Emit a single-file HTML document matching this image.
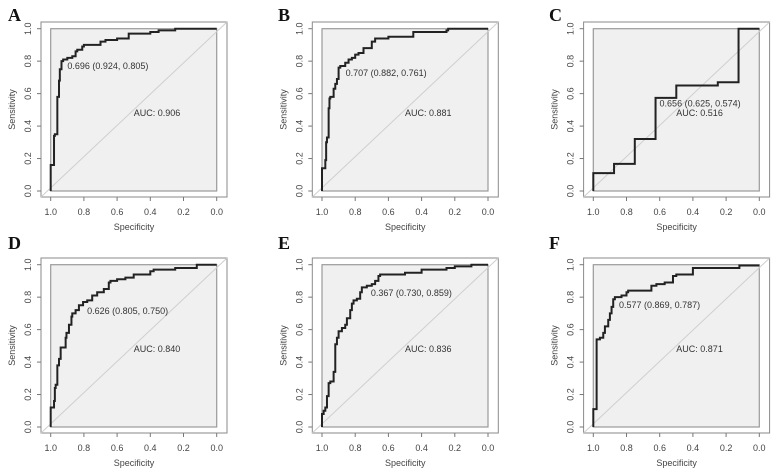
<!DOCTYPE html>
<html><head><meta charset="utf-8"><style>
html,body{margin:0;padding:0;background:#fff;}
svg{display:block;font-family:"Liberation Sans",sans-serif;}
</style></head><body>
<svg id="fig" width="779" height="476" viewBox="0 0 779 476" xmlns="http://www.w3.org/2000/svg"></svg>
<script>
const panelLetters = ["A","B","C","D","E","F"];
const aucLabels = ["AUC: 0.906","AUC: 0.881","AUC: 0.516","AUC: 0.840","AUC: 0.836","AUC: 0.871"];
const cutThresholds = ["0.696","0.707","0.656","0.626","0.367","0.577"];
const cutSpec = [0.924,0.882,0.625,0.805,0.730,0.869];
const cutSens = [0.805,0.761,0.574,0.750,0.859,0.787];
const tickValues = [1.0,0.8,0.6,0.4,0.2,0.0];
const tickLabels = ["1.0","0.8","0.6","0.4","0.2","0.0"];
const specA = [1,1,0.98,0.975,0.96,0.96,0.95,0.945,0.935,0.925,0.90,0.87,0.85,0.84,0.81,0.80,0.78,0.70,0.67,0.6,0.53,0.5,0.4,0.35,0.25,0.24,0];
const sensA = [0,0.15,0.16,0.34,0.35,0.46,0.58,0.68,0.75,0.80,0.81,0.82,0.83,0.86,0.87,0.89,0.90,0.90,0.92,0.93,0.94,0.97,0.97,0.98,0.99,1,1];
const specB = [1,1,0.98,0.975,0.97,0.96,0.955,0.95,0.93,0.92,0.91,0.90,0.89,0.86,0.84,0.82,0.80,0.78,0.75,0.70,0.68,0.65,0.6,0.55,0.45,0.4,0.25,0.24,0.15,0];
const sensB = [0,0.14,0.14,0.19,0.30,0.33,0.51,0.57,0.58,0.63,0.66,0.69,0.76,0.77,0.79,0.81,0.82,0.84,0.85,0.88,0.92,0.94,0.94,0.95,0.95,0.98,0.98,0.99,1,1];
const specC = [1,1,0.875,0.875,0.75,0.75,0.625,0.625,0.5,0.5,0.25,0.25,0.125,0.125,0];
const sensC = [0,0.11,0.11,0.167,0.167,0.32,0.32,0.574,0.574,0.65,0.65,0.67,0.67,1,1];
const specD = [1,1,0.98,0.975,0.97,0.96,0.95,0.94,0.935,0.91,0.905,0.89,0.875,0.87,0.85,0.83,0.805,0.78,0.75,0.72,0.68,0.65,0.64,0.6,0.55,0.5,0.4,0.38,0.25,0.2,0.12,0.1,0];
const sensD = [0,0.12,0.12,0.16,0.24,0.26,0.38,0.42,0.49,0.49,0.55,0.58,0.63,0.68,0.70,0.72,0.75,0.77,0.78,0.81,0.83,0.85,0.89,0.90,0.91,0.92,0.94,0.96,0.97,0.98,0.98,1,1];
const specE = [1,1,0.99,0.98,0.97,0.96,0.95,0.93,0.92,0.91,0.90,0.88,0.86,0.85,0.83,0.82,0.81,0.79,0.77,0.76,0.73,0.7,0.68,0.66,0.65,0.5,0.4,0.38,0.25,0.2,0.1,0.1,0];
const sensE = [0,0.06,0.08,0.10,0.12,0.19,0.27,0.28,0.34,0.51,0.55,0.59,0.61,0.63,0.67,0.72,0.76,0.78,0.79,0.83,0.86,0.87,0.88,0.90,0.93,0.94,0.95,0.97,0.97,0.98,0.99,1,1];
const specF = [1,1,0.98,0.98,0.96,0.94,0.93,0.91,0.90,0.89,0.88,0.87,0.83,0.80,0.79,0.65,0.62,0.57,0.52,0.50,0.45,0.40,0.39,0.12,0.12,0];
const sensF = [0,0.11,0.11,0.53,0.54,0.55,0.58,0.62,0.66,0.70,0.74,0.787,0.80,0.81,0.83,0.84,0.87,0.88,0.89,0.93,0.94,0.94,0.98,0.98,0.995,0.995];
const specSeries = [specA,specB,specC,specD,specE,specF];
const sensSeries = [sensA,sensB,sensC,sensD,sensE,sensF];

const NS="http://www.w3.org/2000/svg";
const svg=document.getElementById('fig');
function mk(tag,attrs,parent,text){const e=document.createElementNS(NS,tag);for(const k in attrs)e.setAttribute(k,attrs[k]);if(text!==undefined)e.textContent=text;parent.appendChild(e);return e;}

for(let p=0;p<6;p++){
  const col=p%3,row=Math.floor(p/3);
  const x0=50.7+col*271.3, x1=x0+166;
  const yTop=28.7+row*236, yBot=191+row*236;
  const sx=v=>x1-(x1-x0)*v;
  const sy=v=>yBot-(yBot-yTop)*v;
  const g=mk('g',{},svg);
  
  
  const ox0=x0-9.7, ox1=x1+10.3, oy0=yTop-6.7, oy1=yBot+6;
  const outer=mk('rect',{x:ox0,y:oy0,width:ox1-ox0,height:oy1-oy0,fill:'#fff',stroke:'#8a8a8a','stroke-width':1},g);
  
  
  const inner=mk('rect',{x:x0,y:yTop,width:x1-x0,height:yBot-yTop,fill:'#f0f0f0',stroke:'#9a9a9a','stroke-width':1.2},g);
  
  
  const diag=mk('line',{x1:ox0,y1:oy1,x2:ox1,y2:oy0,stroke:'#cfcfcf','stroke-width':1},g);
  
  
  for(let i=0;i<tickValues.length;i++){
    const tx=sx(tickValues[i]);
    mk('line',{x1:tx,y1:oy1,x2:tx,y2:oy1+4,stroke:'#777','stroke-width':1},g);
    const xl=mk('text',{x:tx,y:oy1+18,'font-size':9,fill:'#444','text-anchor':'middle'},g,tickLabels[i]);
    
    
    const ty=sy(tickValues[i]);
    mk('line',{x1:ox0-4,y1:ty,x2:ox0,y2:ty,stroke:'#777','stroke-width':1},g);
    const yl=mk('text',{x:0,y:0,'font-size':9,fill:'#444','text-anchor':'middle',transform:`translate(${ox0-10},${ty}) rotate(-90)`},g,tickLabels[i]);
    
    
  }
  const xt=mk('text',{x:(ox0+ox1)/2,y:oy1+33,'font-size':9,fill:'#444','text-anchor':'middle'},g,'Specificity');
  
  
  const yt=mk('text',{x:0,y:0,'font-size':9,fill:'#444','text-anchor':'middle',transform:`translate(${ox0-26},${(oy0+oy1)/2}) rotate(-90)`},g,'Sensitivity');
  
  
  const sp=specSeries[p], se=sensSeries[p];
  let d='M'+sx(sp[0]).toFixed(2)+','+sy(se[0]).toFixed(2);
  for(let i=1;i<sp.length;i++){
    d+='L'+sx(sp[i-1]).toFixed(2)+','+sy(se[i]).toFixed(2);
    d+='L'+sx(sp[i]).toFixed(2)+','+sy(se[i]).toFixed(2);
  }
  const path=mk('path',{d:d,fill:'none',stroke:'#222','stroke-width':2,'stroke-linejoin':'miter'},g);
  
  
  const cl=mk('text',{x:sx(cutSpec[p])+4,y:sy(cutSens[p])+8.5,'font-size':9,fill:'#333'},g,cutThresholds[p]+' ('+cutSpec[p].toFixed(3)+', '+cutSens[p].toFixed(3)+')');
  
  
  const al=mk('text',{x:sx(0.5),y:sy(0.48)+3,'font-size':9,fill:'#333'},g,aucLabels[p]);
  
  
  const lt=mk('text',{x:col===0?8:(col===1?278:549),y:row*228+21,'font-size':18,'font-weight':'bold','font-family':'"Liberation Serif",serif',fill:'#111'},g,panelLetters[p]);
  
  
}
</script>
</body></html>
